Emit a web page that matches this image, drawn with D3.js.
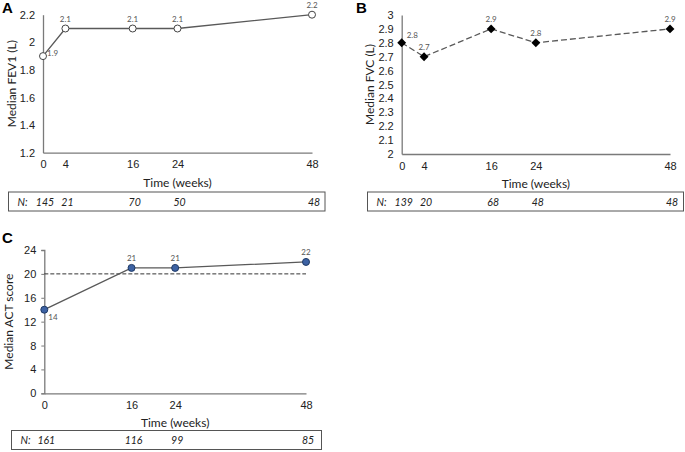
<!DOCTYPE html>
<html>
<head>
<meta charset="utf-8">
<script src="https://cdn.jsdelivr.net/npm/d3@7"></script>
<style>
  body { margin: 0; background: #fff; }
  svg { font-family: Lato, "Open Sans", sans-serif; }
</style>
</head>
<body>
<script>
// data
var weeksAB = [0, 4, 16, 24, 48];
var fev1 = [1.9, 2.1, 2.1, 2.1, 2.2];
var fev1N = [145, 21, 70, 50, 48];
var fvc = [2.8, 2.7, 2.9, 2.8, 2.9];
var fvcN = [139, 20, 68, 48, 48];
var weeksC = [0, 16, 24, 48];
var act = [14, 21, 21, 22];
var actN = [161, 116, 99, 85];
var fev1Ticks = [1.2, 1.4, 1.6, 1.8, 2, 2.2];
var fvcTicks = [2, 2.1, 2.2, 2.3, 2.4, 2.5, 2.6, 2.7, 2.8, 2.9, 3];
var actTicks = [0, 4, 8, 12, 16, 20, 24];
var actCutoff = 20;

var svg = d3.select("body").append("svg")
  .attr("width", 685)
  .attr("height", 452);

function panel(p) {
  var x = d3.scaleLinear().domain([0, 48]).range([p.x0, p.x1]);
  var y = d3.scaleLinear().domain(p.ydom).range([p.y0, p.y1]);
  var g = svg.append("g");
  var pts = p.weeks.map(function(w, i) { return { w: w, v: p.values[i], n: p.ns[i] }; });

  // panel letter
  g.append("text")
    .attr("x", p.lx).attr("y", p.ly)
    .style("font-size", "15px").style("font-weight", "bold")
    .style("font-family", "Arial, 'Liberation Sans', sans-serif")
    .text(p.letter);

  // y axis
  var ya = g.append("g")
    .attr("transform", "translate(" + p.x0 + ",0)")
    .call(d3.axisLeft(y).tickValues(p.yticks).tickSize(p.ytick).tickPadding(p.ytick ? 5 : 8)
      .tickFormat(function(d) { return d3.format("~g")(d); }));
  ya.select(".domain").attr("stroke", "#7a7a7a").attr("stroke-width", 1.3);
  ya.selectAll(".tick line").attr("stroke", "#7a7a7a");
  ya.selectAll("text").style("font-size", "11px").attr("fill", "#222");

  // x axis
  var xa = g.append("g")
    .attr("transform", "translate(0," + p.y0 + ")")
    .call(d3.axisBottom(x).tickValues(p.weeks).tickSize(0).tickPadding(8).tickSizeOuter(0));
  xa.select(".domain").attr("stroke", "#7a7a7a").attr("stroke-width", 1.3);
  xa.selectAll("text").style("font-size", "11px").attr("fill", "#222");

  // axis titles
  g.append("text")
    .attr("x", (p.x0 + p.x1) / 2).attr("y", p.y0 + 34)
    .attr("text-anchor", "middle")
    .style("font-size", "12px").attr("fill", "#222")
    .text("Time (weeks)");
  g.append("text")
    .attr("transform", "translate(" + p.tx + "," + (p.y0 + p.y1) / 2 + ") rotate(-90)")
    .attr("text-anchor", "middle")
    .style("font-size", "12px").attr("fill", "#222")
    .text(p.ytitle);

  // reference line
  if (p.cutoff != null) {
    g.append("line")
      .attr("x1", x(0)).attr("x2", x(48))
      .attr("y1", y(p.cutoff)).attr("y2", y(p.cutoff))
      .attr("stroke", "#333").attr("stroke-width", 1)
      .attr("stroke-dasharray", "4,2");
  }

  // series line
  g.append("path")
    .datum(pts)
    .attr("fill", "none")
    .attr("stroke", "#595959")
    .attr("stroke-width", 1.3)
    .attr("stroke-dasharray", p.dash || null)
    .attr("d", d3.line().x(function(d) { return x(d.w); }).y(function(d) { return y(d.v); }));

  // markers
  var m = g.selectAll(".mk").data(pts).enter();
  if (p.marker == "diamond") {
    m.append("path")
      .attr("d", d3.symbol().type(d3.symbolDiamond2).size(50))
      .attr("transform", function(d) { return "translate(" + x(d.w) + "," + y(d.v) + ")"; })
      .attr("fill", "#000");
  } else {
    m.append("circle")
      .attr("cx", function(d) { return x(d.w); })
      .attr("cy", function(d) { return y(d.v); })
      .attr("r", 3.5)
      .attr("fill", p.marker == "open" ? "#fff" : "#3d62a3")
      .attr("stroke", p.marker == "open" ? "#444" : "#1f3a66")
      .attr("stroke-width", 1);
  }

  // value labels
  g.selectAll(".vl").data(pts).enter().append("text")
    .attr("x", function(d, i) { return x(d.w) + p.lab[i][0]; })
    .attr("y", function(d, i) { return y(d.v) + p.lab[i][1]; })
    .attr("text-anchor", function(d, i) { return p.lab[i][0] ? "start" : "middle"; })
    .style("font-size", "8px").attr("fill", "#555")
    .text(function(d) { return d.v; });

  // N box
  g.append("rect")
    .attr("x", p.bx0).attr("y", p.by)
    .attr("width", p.bx1 - p.bx0).attr("height", 19)
    .attr("fill", "none").attr("stroke", "#555").attr("stroke-width", 1);
  g.append("text")
    .attr("x", p.bx0 + 9).attr("y", p.by + 13.5)
    .style("font-size", "10.5px").style("font-style", "italic").attr("fill", "#222")
    .text("N:");
  g.selectAll(".nl").data(pts).enter().append("text")
    .attr("x", function(d) { return x(d.w) + 2; })
    .attr("y", p.by + 13.5)
    .attr("text-anchor", "middle")
    .style("font-size", "10.5px").style("font-style", "italic").attr("fill", "#222")
    .text(function(d) { return d.n; });
}

panel({
  letter: "A", lx: 2, ly: 13,
  weeks: weeksAB, values: fev1, ns: fev1N,
  x0: 43, x1: 312, y0: 152.7, y1: 14.7,
  ydom: [1.2, 2.2], yticks: fev1Ticks, ytick: 0,
  ytitle: "Median FEV1 (L)", tx: 16,
  marker: "open",
  lab: [[4, 0], [0, -7], [0, -7], [0, -7], [0, -7]],
  bx0: 8.5, bx1: 325, by: 192
});

panel({
  letter: "B", lx: 356, ly: 13,
  weeks: weeksAB, values: fvc, ns: fvcN,
  x0: 401.7, x1: 670, y0: 154, y1: 15,
  ydom: [2, 3], yticks: fvcTicks, ytick: 0,
  ytitle: "Median FVC (L)", tx: 374,
  marker: "diamond", dash: "6,3",
  lab: [[5, -5], [0, -7], [0, -7], [0, -7], [0, -7]],
  bx0: 367.5, bx1: 683.5, by: 192
});

panel({
  letter: "C", lx: 2, ly: 243,
  weeks: weeksC, values: act, ns: actN,
  x0: 44.3, x1: 306, y0: 393.3, y1: 250,
  ydom: [0, 24], yticks: actTicks, ytick: 3,
  ytitle: "Median ACT score", tx: 13,
  marker: "filled", cutoff: actCutoff,
  lab: [[4, 10], [0, -7], [0, -7], [0, -7]],
  bx0: 11.5, bx1: 321.5, by: 430.5
});
</script>
</body>
</html>
